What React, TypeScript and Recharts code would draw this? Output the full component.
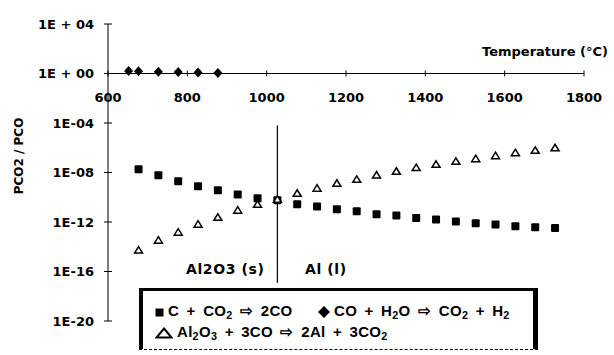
import {
  ScatterChart,
  Scatter,
  XAxis,
  YAxis,
  ReferenceLine,
  ReferenceDot,
  Legend,
} from "recharts";

// temperatures (°C) of the computed points
const TEMPS = [
  677, 727, 777, 827, 877, 927, 977, 1027, 1077, 1127, 1177, 1227, 1277, 1327, 1377, 1427,
  1477, 1527, 1577, 1627, 1677, 1727,
];

// C + CO2 -> 2CO
const C_CO2 = [
  1.8e-8, 5.9e-9, 1.95e-9, 7.7e-10, 3.7e-10, 1.7e-10, 8.3e-11, 5.7e-11, 2.7e-11, 1.8e-11,
  1.07e-11, 7.4e-12, 4.3e-12, 3.3e-12, 2.1e-12, 1.6e-12, 1.1e-12, 8e-13, 6.3e-13, 4.6e-13,
  3.8e-13, 3.2e-13,
];

// Al2O3 + 3CO -> 2Al + 3CO2
const AL2O3_CO = [
  5.4e-15, 3.4e-14, 1.5e-13, 6.7e-13, 2.4e-12, 9e-12, 2.7e-11, 6.9e-11, 2.1e-10, 5.4e-10,
  1.35e-9, 2.8e-9, 6.3e-9, 1.26e-8, 2.5e-8, 4.6e-8, 8e-8, 1.3e-7, 2.3e-7, 4e-7, 6.2e-7, 1e-6,
];

// CO + H2O -> CO2 + H2
const WGS_TEMPS = [652, 677, 727, 777, 827, 877];
const WGS = [1.6, 1.5, 1.4, 1.3, 1.2, 1.1];

const X_TICKS = [600, 800, 1000, 1200, 1400, 1600, 1800];
const Y_TICKS = [1e4, 1, 1e-4, 1e-8, 1e-12, 1e-16, 1e-20];
const PHASE_T = 1027;

const NAMES = ["C + CO2 ⇨ 2CO", "CO + H2O ⇨ CO2 + H2", "Al2O3 + 3CO ⇨ 2Al + 3CO2"];

const AXIS_FONT = '"DejaVu Sans", sans-serif';
const LEGEND_FONT = '"Liberation Sans", Arial, sans-serif';

const squares = TEMPS.map((t, i) => ({ t, v: C_CO2[i] }));
const triangles = TEMPS.map((t, i) => ({ t, v: AL2O3_CO[i] }));
const diamonds = WGS_TEMPS.map((t, i) => ({ t, v: WGS[i] }));

const fmtY = (v: number) => {
  const e = Math.round(Math.log10(v));
  const d = String(Math.abs(e)).padStart(2, "0");
  return e >= 0 ? `1E + ${d}` : `1E-${d}`;
};

const YTick = (props: any) => {
  const { x, y, payload } = props;
  return (
    <g>
      <line x1={x - 4} x2={x + 4} y1={y} y2={y} stroke="#000" strokeWidth={1} />
      <text
        x={x - 14}
        y={y}
        dy={4.5}
        textAnchor="end"
        fontFamily={AXIS_FONT}
        fontWeight="bold"
        fontSize={13}
        fill="#000"
      >
        {fmtY(payload.value)}
      </text>
    </g>
  );
};

const Square = ({ cx, cy }: any) => (
  <rect x={cx - 4} y={cy - 4} width={8} height={8} rx={1} fill="#000" />
);
const Diamond = ({ cx, cy }: any) => (
  <polygon points={`${cx},${cy - 5} ${cx + 4.5},${cy} ${cx},${cy + 5} ${cx - 4.5},${cy}`} fill="#000" />
);
const Triangle = ({ cx, cy }: any) => (
  <polygon
    points={`${cx},${cy - 3.5} ${cx + 4},${cy + 3} ${cx - 4},${cy + 3}`}
    fill="#fff"
    stroke="#000"
    strokeWidth={1.5}
  />
);

// digits right after a letter become subscripts
const Formula = ({ text }: { text: string }) => (
  <span>
    {text.split("").map((ch, i) =>
      /\d/.test(ch) && i > 0 && /[A-Za-z]/.test(text[i - 1]) ? (
        <sub key={i} style={{ fontSize: "0.72em", lineHeight: 1, verticalAlign: "-0.3em" }}>
          {ch}
        </sub>
      ) : (
        <span key={i}>{ch}</span>
      )
    )}
  </span>
);

const icons = [
  <svg width={9} height={9} key="s">
    <rect x={0.5} y={0.5} width={8} height={8} fill="#000" />
  </svg>,
  <svg width={12} height={12} key="d">
    <polygon points="6,0 12,6 6,12 0,6" fill="#000" />
  </svg>,
  <svg width={18} height={12} key="t">
    <polygon points="9,1.5 16.5,10.5 1.5,10.5" fill="#fff" stroke="#000" strokeWidth={2} />
  </svg>,
];

const itemPos = [
  { left: 12, top: 12 },
  { left: 175, top: 12 },
  { left: 12, top: 33 },
];

const LegendBox = (props: any) => {
  const payload = props.payload || [];
  return (
    <div
      style={{
        position: "relative",
        width: 399,
        height: 62,
        boxSizing: "border-box",
        borderTop: "3px solid #000",
        borderLeft: "4px solid #000",
        borderRight: "5px solid #000",
        borderBottom: "1px dashed #000",
        background: "#fff",
        fontFamily: LEGEND_FONT,
        fontWeight: "bold",
        fontSize: 15,
        wordSpacing: 3,
        letterSpacing: 0.3,
        color: "#000",
      }}
    >
      {payload.map((p: any) => {
        const k = NAMES.indexOf(p.value);
        if (k < 0) return null;
        return (
          <div
            key={k}
            style={{
              position: "absolute",
              left: itemPos[k].left,
              top: itemPos[k].top,
              display: "flex",
              alignItems: "center",
              gap: 4,
              whiteSpace: "nowrap",
              height: 18,
            }}
          >
            {icons[k]}
            <Formula text={p.value} />
          </div>
        );
      })}
    </div>
  );
};

const textStyle = {
  position: "absolute" as const,
  fontFamily: AXIS_FONT,
  fontWeight: "bold" as const,
  fontSize: 13,
  color: "#000",
  whiteSpace: "nowrap" as const,
  lineHeight: "16px",
};

export default function App() {
  return (
    <div style={{ position: "absolute", left: 0, top: 0, width: 614, height: 355, background: "#fff" }}>
      <ScatterChart width={614} height={355} margin={{ top: 24, right: 30, bottom: 34, left: 0 }}>
        <XAxis type="number" dataKey="t" domain={[600, 1800]} hide />
        <YAxis
          type="number"
          dataKey="v"
          scale="log"
          domain={[1e-20, 1e4]}
          ticks={Y_TICKS}
          allowDataOverflow
          width={108}
          tickSize={0}
          tickMargin={0}
          tickLine={false}
          axisLine={{ stroke: "#000", strokeWidth: 1 }}
          tick={<YTick />}
          interval={0}
        />
        <ReferenceLine y={1} stroke="#000" strokeWidth={1} />
        {X_TICKS.map((t) => (
          <ReferenceLine
            key={"xt" + t}
            segment={[
              { x: t, y: 10 ** 0.24 },
              { x: t, y: 10 ** -0.24 },
            ]}
            stroke="#000"
          />
        ))}
        {X_TICKS.map((t) => (
          <ReferenceDot
            key={"xl" + t}
            x={t}
            y={1}
            r={0}
            ifOverflow="visible"
            stroke="none"
            label={{
              value: t,
              position: "bottom",
              offset: 19,
              fill: "#000",
              fontFamily: AXIS_FONT,
              fontWeight: "bold",
              fontSize: 13,
            }}
          />
        ))}
        <ReferenceLine
          segment={[
            { x: PHASE_T, y: 10 ** -4.2 },
            { x: PHASE_T, y: 10 ** -16.9 },
          ]}
          stroke="#000"
          strokeWidth={1.2}
        />
        <Scatter name={NAMES[0]} data={squares} shape={<Square />} isAnimationActive={false} />
        <Scatter name={NAMES[1]} data={diamonds} shape={<Diamond />} isAnimationActive={false} />
        <Scatter name={NAMES[2]} data={triangles} shape={<Triangle />} isAnimationActive={false} />
        <Legend
          layout="horizontal"
          verticalAlign="middle"
          align="center"
          content={<LegendBox />}
          wrapperStyle={{ left: 139, top: 288, width: 399, height: 62 }}
        />
      </ScatterChart>
      <div style={{ ...textStyle, right: 6, top: 44 }}>Temperature (°C)</div>
      <div style={{ ...textStyle, left: 186, top: 261, fontSize: 14, letterSpacing: 0.6 }}>Al2O3 (s)</div>
      <div style={{ ...textStyle, left: 305, top: 261, fontSize: 14, letterSpacing: 0.6 }}>Al (l)</div>
      <div
        style={{
          ...textStyle,
          fontSize: 12,
          left: 19,
          top: 156,
          transform: "translate(-50%, -50%) rotate(-90deg)",
        }}
      >
        PCO2 / PCO
      </div>
    </div>
  );
}
